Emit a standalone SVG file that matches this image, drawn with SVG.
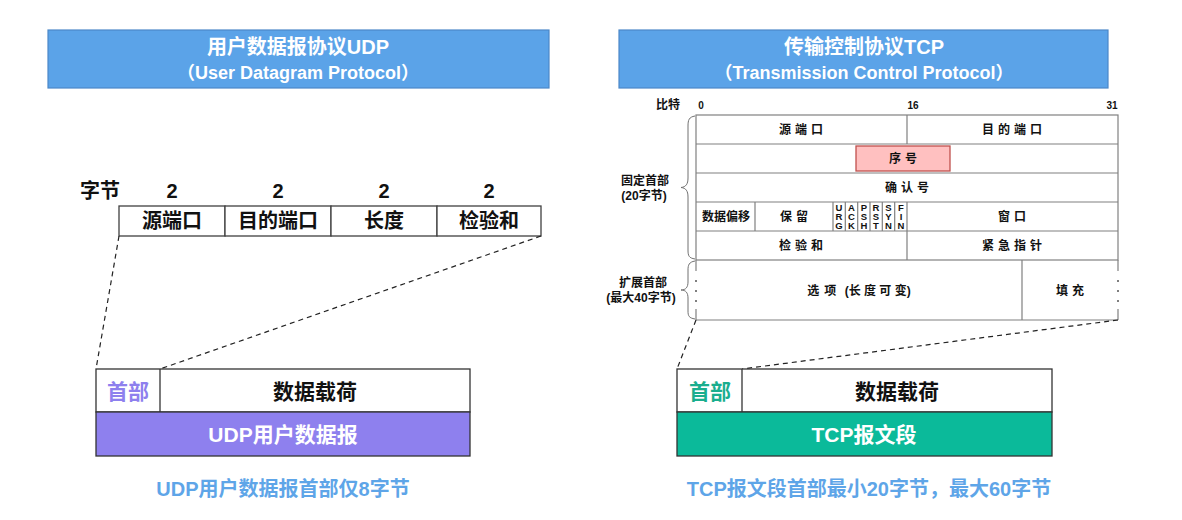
<svg xmlns="http://www.w3.org/2000/svg" width="1182" height="520" viewBox="0 0 1182 520">
<style>
text{font-family:"Liberation Sans","Noto Sans CJK SC",sans-serif;font-weight:bold;text-anchor:middle;dominant-baseline:central}
.title{fill:#5BA3E8;stroke:#4C88C8;stroke-width:1.2}
.tt{fill:#fff;font-size:20px}
.tt2{fill:#fff;font-size:18px}
.cell{fill:#fff;stroke:#808080;stroke-width:1.2}
.line{stroke:#808080;stroke-width:1.2;fill:none}
.t12{font-size:12px;fill:#111}
.sp{letter-spacing:4px}
.flag{font-size:9.5px;fill:#111}
.ucell{fill:#fff;stroke:#404040;stroke-width:1.3}
.u18{font-size:20px;fill:#111}
.dash{stroke:#222;stroke-width:1.2;stroke-dasharray:5,4;fill:none}
.box{stroke:#333;stroke-width:1.3}
.big{font-size:21px}
.cap{font-size:20px;fill:#5EA5E8}
.brace{stroke:#707070;stroke-width:1;fill:none}
</style>

<g id="udp-title">
<rect class="title" x="48" y="30" width="501" height="58"/>
<text class="tt" x="298" y="47">用户数据报协议UDP</text>
<text class="tt2" x="298" y="73">（User Datagram Protocol）</text>
</g>

<g id="tcp-title">
<rect class="title" x="619" y="30" width="489" height="58"/>
<text class="tt" x="864" y="47">传输控制协议TCP</text>
<text class="tt2" x="864" y="73">（Transmission Control Protocol）</text>
</g>

<g id="udp-header">
<text class="u18" x="100" y="191">字节</text>
<text class="u18" x="172" y="191">2</text>
<text class="u18" x="278" y="191">2</text>
<text class="u18" x="384" y="191">2</text>
<text class="u18" x="489" y="191">2</text>
<rect class="ucell" x="119" y="206" width="106" height="30"/>
<rect class="ucell" x="225" y="206" width="106" height="30"/>
<rect class="ucell" x="331" y="206" width="106" height="30"/>
<rect class="ucell" x="437" y="206" width="104" height="30"/>
<text class="u18" x="172" y="221">源端口</text>
<text class="u18" x="278" y="221">目的端口</text>
<text class="u18" x="384" y="221">长度</text>
<text class="u18" x="489" y="221">检验和</text>
</g>

<g id="tcp-header">
<text class="t12" x="668" y="105">比特</text>
<text class="t12" x="701" y="105" style="font-size:10px">0</text>
<text class="t12" x="913" y="105" style="font-size:10px">16</text>
<text class="t12" x="1112" y="105" style="font-size:10px">31</text>
<rect class="cell" x="696" y="115" width="422" height="145"/>
<path class="line" d="M696,144H1118M696,173H1118M696,202H1118M696,231H1118M907,115V144M907,202V260M755,202V231M833,202V231M845.3,202V231M857.7,202V231M870,202V231M882.3,202V231M894.7,202V231"/>
<rect x="856" y="146" width="94" height="25" fill="#FFC0C0" stroke="#C0504D" stroke-width="1.3"/>
<text class="t12 sp" x="803" y="130">源端口</text>
<text class="t12 sp" x="1014" y="130">目的端口</text>
<text class="t12 sp" x="905" y="159">序号</text>
<text class="t12 sp" x="909" y="188">确认号</text>
<text class="t12" x="726" y="217">数据偏移</text>
<text class="t12 sp" x="796" y="217">保留</text>
<text class="t12 sp" x="1014" y="217">窗口</text>
<text class="t12 sp" x="803" y="246">检验和</text>
<text class="t12 sp" x="1014" y="246">紧急指针</text>
<g>
<text class="flag" x="839" y="207">U</text><text class="flag" x="839" y="216">R</text><text class="flag" x="839" y="225">G</text>
<text class="flag" x="851.5" y="207">A</text><text class="flag" x="851.5" y="216">C</text><text class="flag" x="851.5" y="225">K</text>
<text class="flag" x="864" y="207">P</text><text class="flag" x="864" y="216">S</text><text class="flag" x="864" y="225">H</text>
<text class="flag" x="876" y="207">R</text><text class="flag" x="876" y="216">S</text><text class="flag" x="876" y="225">T</text>
<text class="flag" x="888.5" y="207">S</text><text class="flag" x="888.5" y="216">Y</text><text class="flag" x="888.5" y="225">N</text>
<text class="flag" x="901" y="207">F</text><text class="flag" x="901" y="216">I</text><text class="flag" x="901" y="225">N</text>
</g>
<path class="line" d="M696,320H1118M1022,260V320M696,260V271M696,309V320M1118,260V271M1118,309V320"/>
<g fill="#555">
<circle cx="696" cy="281" r="1"/><circle cx="696" cy="291" r="1"/><circle cx="696" cy="301" r="1"/>
<circle cx="1118" cy="281" r="1"/><circle cx="1118" cy="291" r="1"/><circle cx="1118" cy="301" r="1"/>
</g>
<text class="t12" x="859" y="291"><tspan style="letter-spacing:5px">选项</tspan> (长 度 可 变)</text>
<text class="t12 sp" x="1072" y="291">填充</text>
<path class="brace" d="M695,116 C689,117 688,120 688,126 L688,178 C688,184 686,187 681,187.5 C686,188 688,191 688,197 L688,250 C688,256 689,258 695,259"/>
<path class="brace" d="M695,261 C689,262 688,265 688,270 L688,282 C688,287 686,290 681,290 C686,290 688,293 688,298 L688,311 C688,316 689,318 695,319"/>
<text class="t12" x="645" y="181">固定首部</text>
<text class="t12" x="644" y="196">(20字节)</text>
<text class="t12" x="643" y="283">扩展首部</text>
<text class="t12" x="641" y="298">(最大40字节)</text>
</g>

<g id="connectors">
<path class="dash" d="M119,236L96,369M541,236L160,369"/>
<path class="dash" d="M696,320L677,369M1118,320L742,369"/>
</g>

<g id="udp-datagram">
<rect x="96" y="369" width="374" height="43" fill="#fff" class="box"/>
<line x1="160" y1="369" x2="160" y2="412" class="box"/>
<rect x="96" y="412" width="374" height="44" fill="#8E80EE" class="box"/>
<text class="big" x="128" y="391" style="fill:#8E80EE">首部</text>
<text class="big" x="315" y="391" style="fill:#111">数据载荷</text>
<text class="big" x="283" y="434" style="fill:#fff">UDP用户数据报</text>
</g>

<g id="tcp-segment">
<rect x="677" y="369" width="375" height="43" fill="#fff" class="box"/>
<line x1="742" y1="369" x2="742" y2="412" class="box"/>
<rect x="677" y="412" width="375" height="44" fill="#0BBA9A" class="box"/>
<text class="big" x="710" y="391" style="fill:#1AAE8E">首部</text>
<text class="big" x="897" y="391" style="fill:#111">数据载荷</text>
<text class="big" x="864" y="434" style="fill:#fff">TCP报文段</text>
</g>

<g id="captions">
<text class="cap" x="283" y="489">UDP用户数据报首部仅8字节</text>
<text class="cap" x="869" y="489">TCP报文段首部最小20字节，最大60字节</text>
</g>
</svg>
